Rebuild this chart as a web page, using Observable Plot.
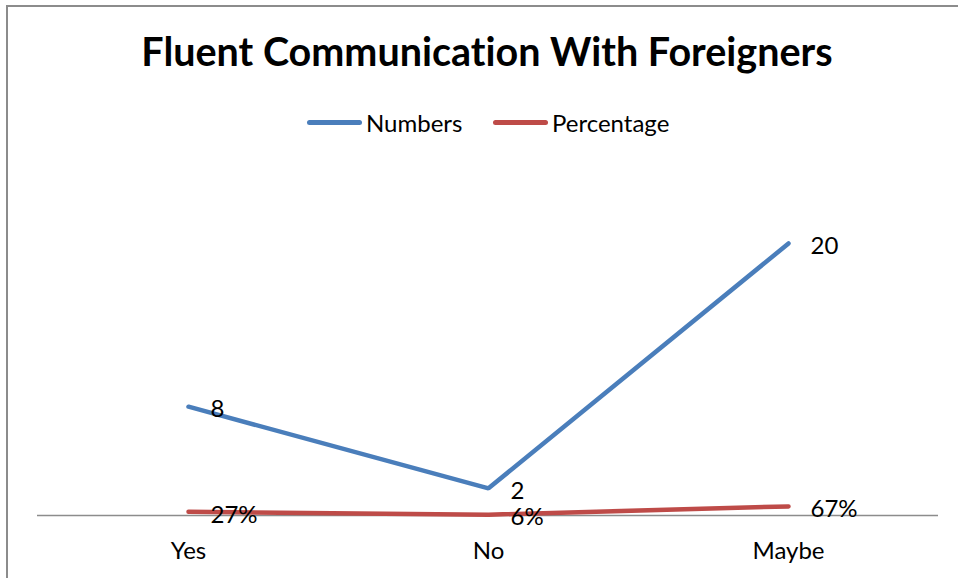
<!DOCTYPE html>
<html>
<head>
<meta charset="utf-8">
<script src="https://cdn.jsdelivr.net/npm/d3@7"></script>
<script src="https://cdn.jsdelivr.net/npm/@observablehq/plot@0.6"></script>
<style>
  html, body { margin: 0; padding: 0; background: #fff; }
  #wrap { position: relative; width: 958px; height: 578px; overflow: hidden; font-family: Lato, "Open Sans", sans-serif; font-variant-ligatures: none; }
  #frame { position: absolute; left: 6px; top: 5px; width: 960px; height: 600px; border-left: 2px solid #8c8c8c; border-top: 2px solid #8c8c8c; box-sizing: border-box; }
  #title { position: absolute; left: 0; width: 974px; top: 27px; text-align: center; font-weight: bold; font-size: 39.5px; color: #000; font-variant-ligatures: none; }
  #legend { position: absolute; top: 108px; left: 0; width: 958px; font-size: 24px; color: #000; }
  .item { position: absolute; display: flex; align-items: center; }
  .sw { width: 55px; height: 5px; border-radius: 3px; margin-right: 4px; }
  #chart { position: absolute; left: 0; top: 0; }
</style>
</head>
<body>
<div id="wrap">
  <div id="frame"></div>
  <div id="chart"></div>
  <div id="title">Fluent Communication With Foreigners</div>
  <div id="legend"></div>
</div>
<script>
const categories = ["Yes", "No", "Maybe"];
const numbers = [8, 2, 20];
const percentages = [0.27, 0.06, 0.67];
const seriesNames = ["Numbers", "Percentage"];
const seriesColors = ["#4A7EBB", "#BE4B48"];

const rows = [];
categories.forEach((c, i) => {
  rows.push({cat: c, value: numbers[i], series: seriesNames[0], label: String(numbers[i])});
  rows.push({cat: c, value: percentages[i], series: seriesNames[1], label: Math.round(percentages[i] * 100) + "%"});
});

const chart = Plot.plot({
  width: 958,
  height: 578,
  marginLeft: 37,
  marginRight: 20,
  marginTop: 243,
  marginBottom: 63,
  style: {fontFamily: "Lato, 'Open Sans', sans-serif", fontSize: "24px", background: "transparent", color: "#000", overflow: "visible"},
  x: {type: "point", domain: categories, padding: 0.5},
  y: {domain: [0, 20], axis: null},
  color: {domain: seriesNames, range: seriesColors},
  marks: [
    Plot.ruleY([0], {stroke: "#8c8c8c", strokeWidth: 1.5}),
    Plot.axisX({tickSize: 0, tickPadding: 26, fontSize: 24, label: null}),
    Plot.line(rows, {x: "cat", y: "value", z: "series", stroke: "series", strokeWidth: 4.5, strokeLinecap: "round", strokeLinejoin: "miter"}),
    Plot.text(rows, {x: "cat", y: "value", text: "label", textAnchor: "start", dx: 22, dy: 3, fill: "#000", fontSize: 24})
  ]
});
document.getElementById("chart").appendChild(chart);

const legend = document.getElementById("legend");
const legendX = [307, 493];
seriesNames.forEach((s, i) => {
  const it = document.createElement("div");
  it.className = "item";
  it.style.left = legendX[i] + "px";
  const sw = document.createElement("div");
  sw.className = "sw";
  sw.style.background = seriesColors[i];
  const t = document.createElement("span");
  t.textContent = s;
  it.appendChild(sw);
  it.appendChild(t);
  legend.appendChild(it);
});
</script>
</body>
</html>
